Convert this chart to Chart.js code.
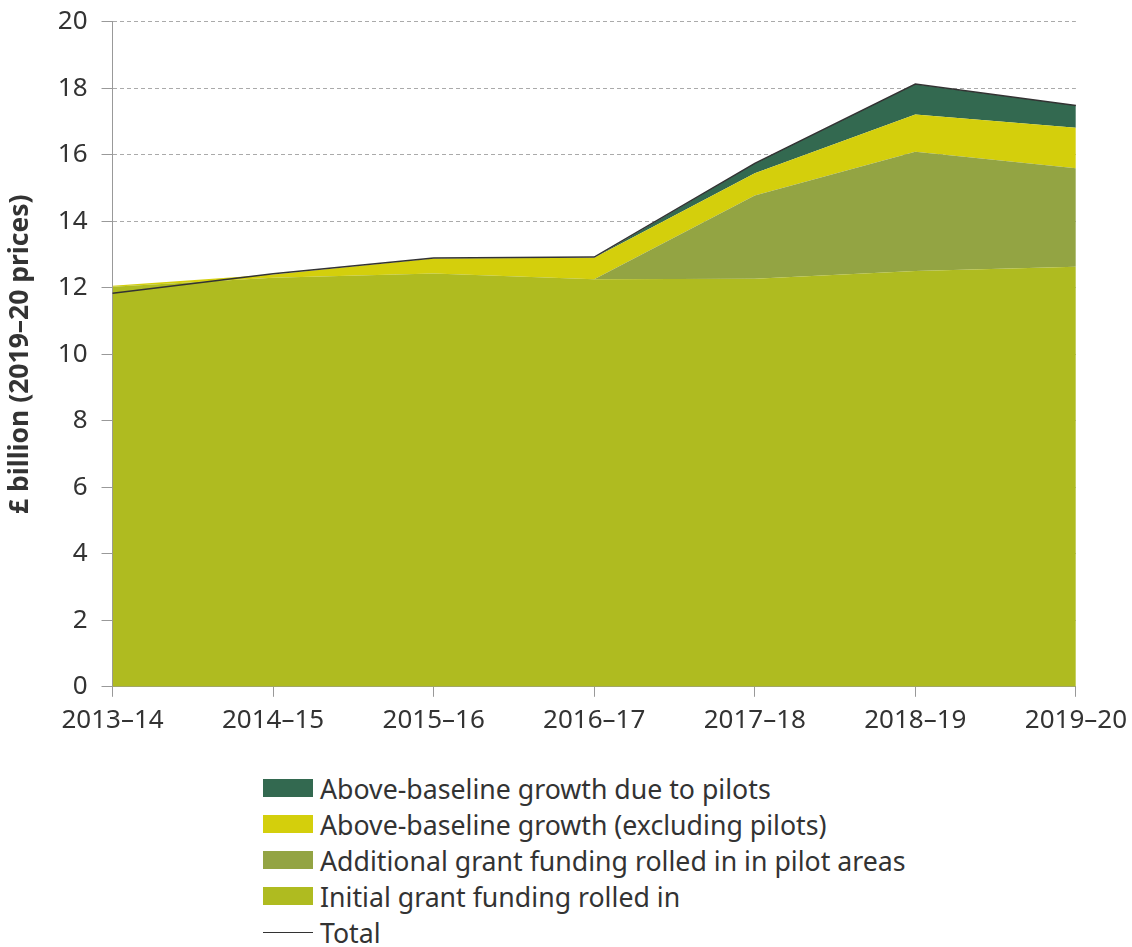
<!DOCTYPE html>
<html>
<head>
<meta charset="utf-8">
<script src="https://cdn.jsdelivr.net/npm/chart.js@4/dist/chart.umd.min.js"></script>
<style>
  body { margin: 0; background: #fff; font-family: "Noto Sans", sans-serif; overflow: hidden; }
  #wrap { position: relative; width: 1132px; height: 947px; overflow: hidden; }
  #chart-box { position: absolute; left: 3px; top: -8px; width: 1132px; height: 760px; }
  #legend { position: absolute; left: 263px; top: 770px; color: #333; font-size: 26.7px; }
  .item { display: flex; align-items: center; height: 36px; }
  .swatch { width: 50px; height: 18px; margin-right: 7px; }
  .line { width: 50px; height: 0; border-top: 1.5px solid #333; margin-right: 7px; }
</style>
</head>
<body>
<div id="wrap">
  <div id="chart-box"><canvas id="chart"></canvas></div>
  <div id="legend"></div>
</div>
<script>
// Data (£ billion, 2019-20 prices)
const years = ["2013–14", "2014–15", "2015–16", "2016–17", "2017–18", "2018–19", "2019–20"]
const initialGrant = [12.03, 12.3, 12.43, 12.25, 12.27, 12.5, 12.63]
const pilotGrant = [0, 0, 0, 0, 2.5, 3.59, 2.96]
const growthExclPilots = [0.03, 0.1, 0.45, 0.65, 0.67, 1.12, 1.22]
const growthPilots = [0, 0, 0, 0, 0.29, 0.91, 0.67]
const total = [11.83, 12.42, 12.89, 12.92, 15.74, 18.12, 17.48]
const yTicks = [0, 2, 4, 6, 8, 10, 12, 14, 16, 18, 20]

const colors = {
  pilots: "#336950",
  excl: "#d4cf0c",
  pilotGrant: "#93a443",
  initial: "#afbb20",
  total: "#333333",
}

function area(label, data, color, fill) {
  return {
    label,
    data,
    backgroundColor: color,
    borderColor: color,
    borderWidth: 0,
    pointRadius: 0,
    fill,
    stack: "areas",
    tension: 0,
  }
}

const ctx = document.getElementById("chart").getContext("2d")

const chart = new Chart(ctx, {
  type: "line",
  data: {
    labels: years,
    datasets: [
      {
        label: "Total",
        data: total,
        borderColor: colors.total,
        borderWidth: 1.5,
        pointRadius: 0,
        fill: false,
        stack: "total",
        tension: 0,
      },
      area("Initial grant funding rolled in", initialGrant, colors.initial, "origin"),
      area("Additional grant funding rolled in in pilot areas", pilotGrant, colors.pilotGrant, "-1"),
      area("Above-baseline growth (excluding pilots)", growthExclPilots, colors.excl, "-1"),
      area("Above-baseline growth due to pilots", growthPilots, colors.pilots, "-1"),
    ],
  },
  options: {
    responsive: true,
    maintainAspectRatio: false,
    animation: false,
    layout: { padding: { top: 6, right: 55, left: 2, bottom: 8 } },
    plugins: {
      legend: { display: false },
      tooltip: { enabled: false },
    },
    scales: {
      x: {
        offset: false,
        grid: {
          drawOnChartArea: false,
          drawTicks: true,
          tickLength: 10,
          tickColor: "#999",
        },
        border: { color: "#999", width: 1 },
        ticks: {
          color: "#333",
          font: { family: "Noto Sans", size: 26 },
          padding: 8,
          maxRotation: 0,
          autoSkip: false,
        },
      },
      y: {
        stacked: true,
        min: 0,
        max: 20,
        afterBuildTicks: (axis) => {
          axis.ticks = yTicks.map((v) => ({ value: v }))
        },
        grid: {
          color: "#aaa",
          lineWidth: 1,
          tickLength: 11,
          tickColor: "#999",
          tickBorderDash: [],
        },
        border: { color: "#999", width: 1, dash: [4, 3] },
        ticks: {
          color: "#333",
          font: { family: "Noto Sans", size: 26 },
          padding: 14,
        },
        title: {
          display: true,
          text: "£ billion (2019–20 prices)",
          color: "#333",
          font: { family: "Noto Sans", size: 26.5, weight: "bold" },
          padding: { top: 0, bottom: 7 },
        },
      },
    },
  },
})

// Legend built from the chart's datasets
const legendEl = document.getElementById("legend")
const legendOrder = [4, 3, 2, 1, 0]
legendOrder.forEach((i) => {
  const ds = chart.data.datasets[i]
  const row = document.createElement("div")
  row.className = "item"
  const mark = document.createElement("span")
  if (ds.fill === false) {
    mark.className = "line"
  } else {
    mark.className = "swatch"
    mark.style.background = ds.backgroundColor
  }
  const text = document.createElement("span")
  text.textContent = ds.label
  row.appendChild(mark)
  row.appendChild(text)
  legendEl.appendChild(row)
})
</script>
</body>
</html>
